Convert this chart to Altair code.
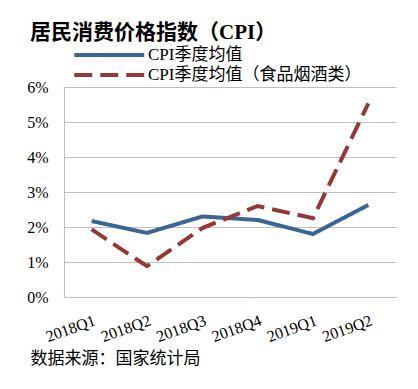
import altair as alt
import pandas as pd

quarters = ["2018Q1", "2018Q2", "2018Q3", "2018Q4", "2019Q1", "2019Q2"]
series_names = ["CPI季度均值", "CPI季度均值（食品烟酒类）"]
cpi_all = [2.17, 1.83, 2.30, 2.20, 1.80, 2.63]
cpi_food = [1.93, 0.88, 1.97, 2.60, 2.25, 5.53]
y_ticks = [0, 1, 2, 3, 4, 5, 6]

rows = []
for q, v in zip(quarters, cpi_all):
    rows.append({"quarter": q, "series": series_names[0], "value": v})
for q, v in zip(quarters, cpi_food):
    rows.append({"quarter": q, "series": series_names[1], "value": v})
df = pd.DataFrame(rows)

FONT = "Liberation Serif, Noto Sans CJK SC"
BLUE = "#3C6597"
RED = "#953735"

legend_opts = dict(
    title=None,
    orient="none",
    legendX=8,
    legendY=-43,
    padding=0,
    rowPadding=1,
    symbolType="M-1,0H7",
    symbolSize=306,
    symbolStrokeWidth=4,
    labelOffset=54,
    labelFont=FONT,
    labelFontSize=17,
    labelColor="#000000",
    labelLimit=400,
)

chart = alt.Chart(df).mark_line(strokeWidth=4, strokeCap="butt").encode(
    x=alt.X(
        "quarter:N",
        sort=quarters,
        scale=alt.Scale(type="point", padding=0.5),
        axis=alt.Axis(
            title="数据来源：国家统计局",
            titleFont=FONT,
            titleFontSize=17,
            titleFontWeight="normal",
            titleColor="#000000",
            titleAlign="left",
            titleBaseline="middle",
            titleAnchor="start",
            titleX=-34,
            titleY=61,
            labelAngle=-20,
            labelAlign="right",
            labelBaseline="top",
            labelPadding=15,
            labelFont=FONT,
            labelFontSize=16,
            labelColor="#000000",
            ticks=False,
            domainColor="#BFBFBF",
            grid=False,
        ),
    ),
    y=alt.Y(
        "value:Q",
        scale=alt.Scale(domain=[0, 6], nice=False),
        axis=alt.Axis(
            title=None,
            values=y_ticks,
            labelExpr="datum.value + '%'",
            labelFont=FONT,
            labelFontSize=16,
            labelColor="#000000",
            labelPadding=16,
            ticks=False,
            domainColor="#BFBFBF",
            gridColor="#BFBFBF",
            gridWidth=1,
        ),
    ),
    color=alt.Color(
        "series:N",
        sort=series_names,
        scale=alt.Scale(domain=series_names, range=[BLUE, RED]),
        legend=alt.Legend(**legend_opts),
    ),
    strokeDash=alt.StrokeDash(
        "series:N",
        sort=series_names,
        scale=alt.Scale(domain=series_names, range=[[1, 0], [18, 8]]),
        legend=alt.Legend(**legend_opts),
    ),
).properties(
    width=332,
    height=210,
    autosize=alt.AutoSizeParams(type="none"),
    padding={"left": 56, "top": 79, "right": 14, "bottom": 84},
    title=alt.TitleParams(
        "居民消费价格指数（CPI）",
        anchor="start",
        frame="group",
        dx=-34,
        dy=3,
        font=FONT,
        fontSize=21,
        fontWeight="bold",
        color="#000000",
        offset=4,
    ),
).configure_view(stroke=None)

chart.save("out.html", embed_options={"renderer": "svg", "actions": False})
